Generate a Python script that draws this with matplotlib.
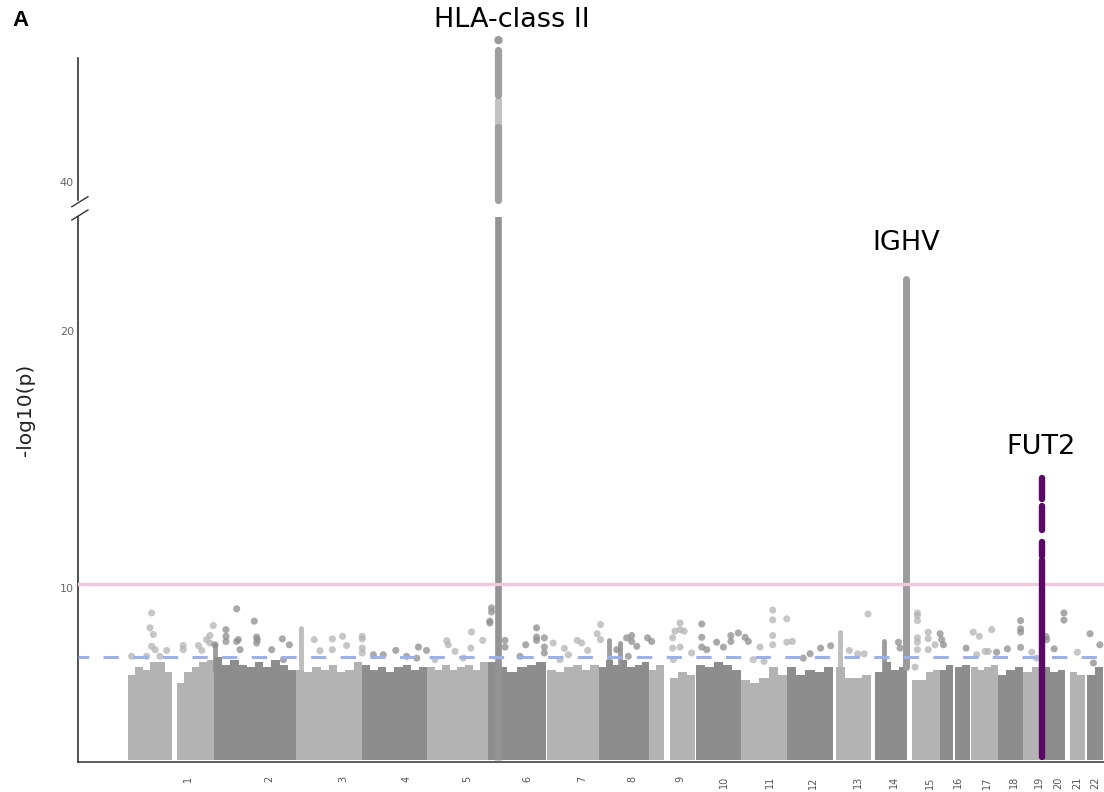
import numpy as np
import matplotlib.pyplot as plt

# chromosome blocks along the genome (cumulative Mb); centromere / short-arm gaps left empty
seg_chr = [1, 1, 2, 3, 4, 5, 6, 7, 8, 9, 9, 10, 11, 12, 13, 14, 15, 16, 16, 17, 18, 19, 20, 21, 22]
seg_start = [0, 145, 254, 496, 691, 883, 1063.5, 1238, 1391, 1539, 1601, 1678, 1811, 1947,
             2092, 2207, 2316, 2399, 2443, 2490, 2570, 2644, 2703, 2783, 2833]
seg_end = [130, 254, 496, 691, 883, 1063.5, 1235, 1391, 1539, 1583, 1675, 1811, 1947, 2083,
           2195, 2301, 2399, 2437, 2487, 2570, 2644, 2700, 2768, 2827, 2880]
# upper edge of the dense SNP cloud in each block (-log10 p), left to right
seg_tops = [
    [6.6, 6.9, 6.8, 7.1, 7.1, 6.7],
    [6.3, 6.7, 6.9, 7.1, 7.2],
    [7.3, 7.0, 7.2, 7.0, 6.9, 7.1, 6.9, 7.2, 7.0, 6.8],
    [6.8, 6.7, 6.9, 6.8, 7.0, 6.7, 6.8, 7.1],
    [7.0, 6.8, 6.9, 6.7, 6.9, 7.0, 6.8, 6.9],
    [6.9, 6.8, 7.0, 6.8, 6.9, 7.0, 6.8, 7.1],
    [7.1, 6.9, 6.7, 6.9, 7.0, 7.1],
    [6.8, 6.7, 6.9, 7.0, 6.8, 7.0],
    [6.9, 7.2, 7.0, 7.2, 6.9, 7.0, 7.1],
    [6.8, 7.0],
    [6.5, 6.7, 6.6],
    [7.0, 6.9, 7.1, 7.0, 6.8],
    [6.4, 6.3, 6.5, 6.9, 6.6],
    [6.9, 6.6, 6.8, 6.7, 6.9],
    [6.9, 6.5, 6.5, 6.6],
    [6.7, 7.1, 6.8, 6.9],
    [6.4, 6.4, 6.7, 6.8],
    [6.8, 7.0],
    [6.9, 7.0],
    [6.9, 6.8, 6.9, 7.0],
    [6.6, 6.8, 6.9],
    [6.7, 6.9],
    [6.9, 6.7, 6.8],
    [6.7, 6.6],
    [6.6, 6.9],
]
base_logp = 3.3

# isolated SNPs above the cloud
hit_chr = [1]*17 + [2]*16 + [3]*10 + [4]*7 + [5]*8 + [6]*14 + [7]*10 + [8]*8 + [9]*9 + \
          [10]*11 + [11]*10 + [12]*4 + [13]*4 + [14]*2 + [15]*11 + [16]*4 + [17]*6 + \
          [18]*6 + [19]*2 + [20]*5 + [21]*1 + [22]*3
hit_pos = [70, 65, 75, 70, 80, 10.8, 55, 114, 94.5, 163, 163, 208, 218, 232, 242, 252, 242,
           257, 289.5, 289.5, 289.5, 321, 321, 326, 331, 373, 380, 380, 382, 424.5, 456, 476.7, 459,
           550, 567, 603.6, 603.6, 634, 646, 692, 692, 692, 692,
           791, 858, 882, 725, 754, 823, 853,
           1015, 941.5, 1048, 1013, 966, 946, 990.6, 907,
           1074, 1074, 1069, 1069, 1113.7, 1113.7, 1207, 1207, 1207, 1230, 1230, 1175, 1230, 1158,
           1396, 1386, 1396, 1327, 1340, 1358, 1289, 1256, 1301, 1276,
           1473, 1488, 1488, 1503, 1535, 1547, 1444, 1478,
           1609, 1616, 1631, 1631, 1643, 1631, 1609, 1665, 1611,
           1695, 1695, 1695, 1739, 1759, 1781, 1781, 1803, 1823, 1832.5, 1709.6,
           1904.6, 1904.6, 1904.6, 1904.6, 1946, 1946, 1962.5, 1867, 1879, 1847,
           2015, 2046, 2076, 1995,
           2186, 2131, 2155.6, 2175,
           2276, 2281,
           2332, 2332, 2332, 2332, 2332, 2332, 2364, 2364, 2384, 2364, 2325,
           2399, 2404, 2409, 2476,
           2497, 2515, 2551.5, 2532, 2541.5, 2507,
           2637, 2637, 2637, 2637, 2598, 2566,
           2670, 2684,
           2765, 2765, 2736, 2714, 2712,
           2804.5,
           2842, 2871, 2852]
hit_logp = [9.02, 8.44, 8.18, 7.72, 7.59, 7.33, 7.33, 7.56, 7.33, 7.75, 7.59, 7.75, 7.56, 7.98, 8.14, 8.53, 7.85,
            7.78, 8.37, 8.11, 7.91, 9.18, 7.91, 7.98, 7.59, 8.70, 8.08, 7.85, 7.98, 7.59, 8.01, 7.78, 7.2,
            7.98, 7.55, 8.01, 7.59, 8.11, 7.75, 8.11, 8.01, 7.65, 7.46,
            7.56, 7.69, 7.56, 7.39, 7.39, 7.33, 7.26,
            8.28, 7.94, 7.95, 7.65, 7.52, 7.78, 7.26, 7.2,
            9.22, 9.06, 8.70, 8.63, 7.69, 7.95, 8.44, 8.08, 7.95, 8.05, 7.69, 7.78, 7.46, 7.33,
            8.57, 8.21, 7.98, 7.95, 7.85, 7.56, 7.64, 7.85, 7.39, 7.2,
            8.05, 8.14, 7.91, 7.72, 8.05, 7.91, 7.59, 7.33,
            8.05, 8.31, 8.63, 8.37, 8.31, 7.69, 7.65, 7.46, 7.2,
            8.59, 8.07, 7.69, 7.88, 7.69, 8.14, 7.91, 8.24, 8.07, 7.91, 7.59,
            9.13, 8.75, 8.14, 7.78, 8.79, 7.88, 7.91, 7.69, 7.13, 7.2,
            7.43, 7.65, 7.74, 7.26,
            8.98, 7.56, 7.42, 7.43,
            7.88, 7.65,
            9.02, 8.92, 8.72, 8.05, 7.88, 7.59, 8.27, 8.02, 7.78, 7.59, 6.91,
            8.21, 7.98, 7.78, 7.65,
            8.27, 8.11, 8.37, 7.52, 7.52, 7.39,
            8.72, 8.40, 8.27, 7.68, 7.62, 7.49,
            7.49, 7.26,
            9.02, 8.74, 7.62, 7.98, 8.10,
            7.49,
            8.21, 7.78, 7.07]

# narrow stacks of linked SNPs rising out of the cloud
stack_chr = [2, 3, 8, 8, 13, 14]
stack_pos = [257, 511, 1422, 1453, 2103, 2233]
stack_base = [6.8, 6.8, 6.9, 6.9, 6.6, 6.8]
stack_top = [7.78, 8.44, 7.98, 7.85, 8.27, 7.91]

# genome-wide significant loci
peak_names = ['HLA-class II', 'IGHV', 'FUT2']
peak_pos = [1094.5, 2298, 2700]
peak_top = [45.55, 22.15, 14.36]
hla_upper_lo = [39.3, 42.23, 43.4]
hla_upper_hi = [42.15, 43.2, 45.16]
fut2_lo = [3.4, 11.25, 12.25, 13.45]
fut2_hi = [11.1, 11.8, 13.2, 14.28]

chrom_labels = [str(i) for i in range(1, 23)]
tick_pos = [177, 416.5, 635, 824, 1001, 1179, 1341, 1489, 1631, 1761, 1897, 2024, 2157,
            2263, 2369, 2452, 2538, 2618, 2691, 2748, 2804, 2857]

suggestive = 7.3
significant = 10.15

light, dark = '#b3b3b3', '#8d8d8d'
purple = '#5a0a64'


def chr_color(c):
    return light if c % 2 == 1 else dark


W, H = 1104, 792
fig = plt.figure(figsize=(W / 100, H / 100), dpi=100)
ax = fig.add_axes([78 / W, 1 - 762.3 / H, 1 - 78 / W, (762.3 - 217) / H])
ax_top = fig.add_axes([78 / W, 1 - 200 / H, 1 - 78 / W, 165 / H], sharex=ax)

# dense clouds
for c, s, e, tops in zip(seg_chr, seg_start, seg_end, seg_tops):
    edges = np.linspace(s, e, len(tops) + 1)
    ax.stairs(tops, edges, baseline=base_logp, fill=True, color=chr_color(c), lw=0, zorder=2)

# linked stacks
ax.vlines(stack_pos, stack_base, stack_top, colors=[chr_color(c) for c in stack_chr],
          lw=3.5, capstyle='round', alpha=0.85, zorder=2)

# single SNPs
ax.scatter(hit_pos, hit_logp, s=26, c=[chr_color(c) for c in hit_chr], alpha=0.75,
           edgecolors='none', zorder=3)

# HLA and IGHV columns
ax.vlines(peak_pos[0], base_logp, peak_top[0], colors='#939393', lw=4.8, zorder=3)
ax.vlines(peak_pos[1], 6.9, peak_top[1] - 0.12, colors='#9c9c9c', lw=5.0,
          capstyle='round', zorder=3)
ax_top.vlines([peak_pos[0]] * 3, hla_upper_lo, hla_upper_hi, colors='#9a9a9a',
              lw=5.2, alpha=[0.95, 0.6, 0.95], capstyle='round', clip_on=False)
ax_top.scatter([peak_pos[0]], [peak_top[0]], s=36, color='#9a9a9a', edgecolors='none',
               clip_on=False)

# FUT2 column
ax.vlines([peak_pos[2]] * len(fut2_lo), fut2_lo, fut2_hi, colors=purple,
          lw=4.6, capstyle='round', zorder=5)

# thresholds
ax.axhline(significant, color='#efc8dc', lw=2.4, zorder=4)
ax.axhline(suggestive, color='#9fb1e2', lw=2.2, ls=(1.5, (5, 4.7)), zorder=4)

# peak labels
ax_top.text(1134, 46.33, peak_names[0], ha='center', va='center', fontsize=19.5, clip_on=False)
ax.text(2298, 23.45, peak_names[1], ha='center', va='center', fontsize=19.5)
ax.text(2697, 15.48, peak_names[2], ha='center', va='center', fontsize=19.5)

# axes styling
ax.set_xlim(-147.7, 2883.3)
ax.set_ylim(3.2, 24.45)
ax_top.set_ylim(39.3, 45.75)

for a in (ax, ax_top):
    a.spines['top'].set_visible(False)
    a.spines['right'].set_visible(False)
    a.spines['left'].set_color('#222')
    a.spines['left'].set_linewidth(1.1)
    a.tick_params(axis='y', length=0, labelsize=8, labelcolor='#666', pad=3)
ax.spines['bottom'].set_color('#333')
ax.spines['bottom'].set_linewidth(1.1)
ax_top.spines['bottom'].set_visible(False)
ax_top.spines['left'].set_bounds(39.3, 44.84)
ax_top.tick_params(axis='x', bottom=False, labelbottom=False)

ax.set_yticks([10, 20])
ax_top.set_yticks([40])
ax.set_xticks(tick_pos)
ax.set_xticklabels(chrom_labels, rotation=90, fontsize=7, color='#555')
ax.tick_params(axis='x', length=0, pad=10)

# axis break marks
kw = dict(color='#333', lw=1.0, clip_on=False)
ax.plot([-0.006, 0.0097], [0.9945, 1.0129], transform=ax.transAxes, **kw)
ax_top.plot([-0.006, 0.0097], [-0.0406, 0.02], transform=ax_top.transAxes, **kw)

fig.text(25 / W, 1 - 410 / H, '-log10(p)', rotation=90, ha='center', va='center',
         fontsize=14.5, color='#222')
fig.text(12 / W, 1 - 20 / H, 'A', ha='left', va='center', fontsize=16,
         fontweight='bold', family='Liberation Sans')

fig.savefig('out.png', dpi=100)
